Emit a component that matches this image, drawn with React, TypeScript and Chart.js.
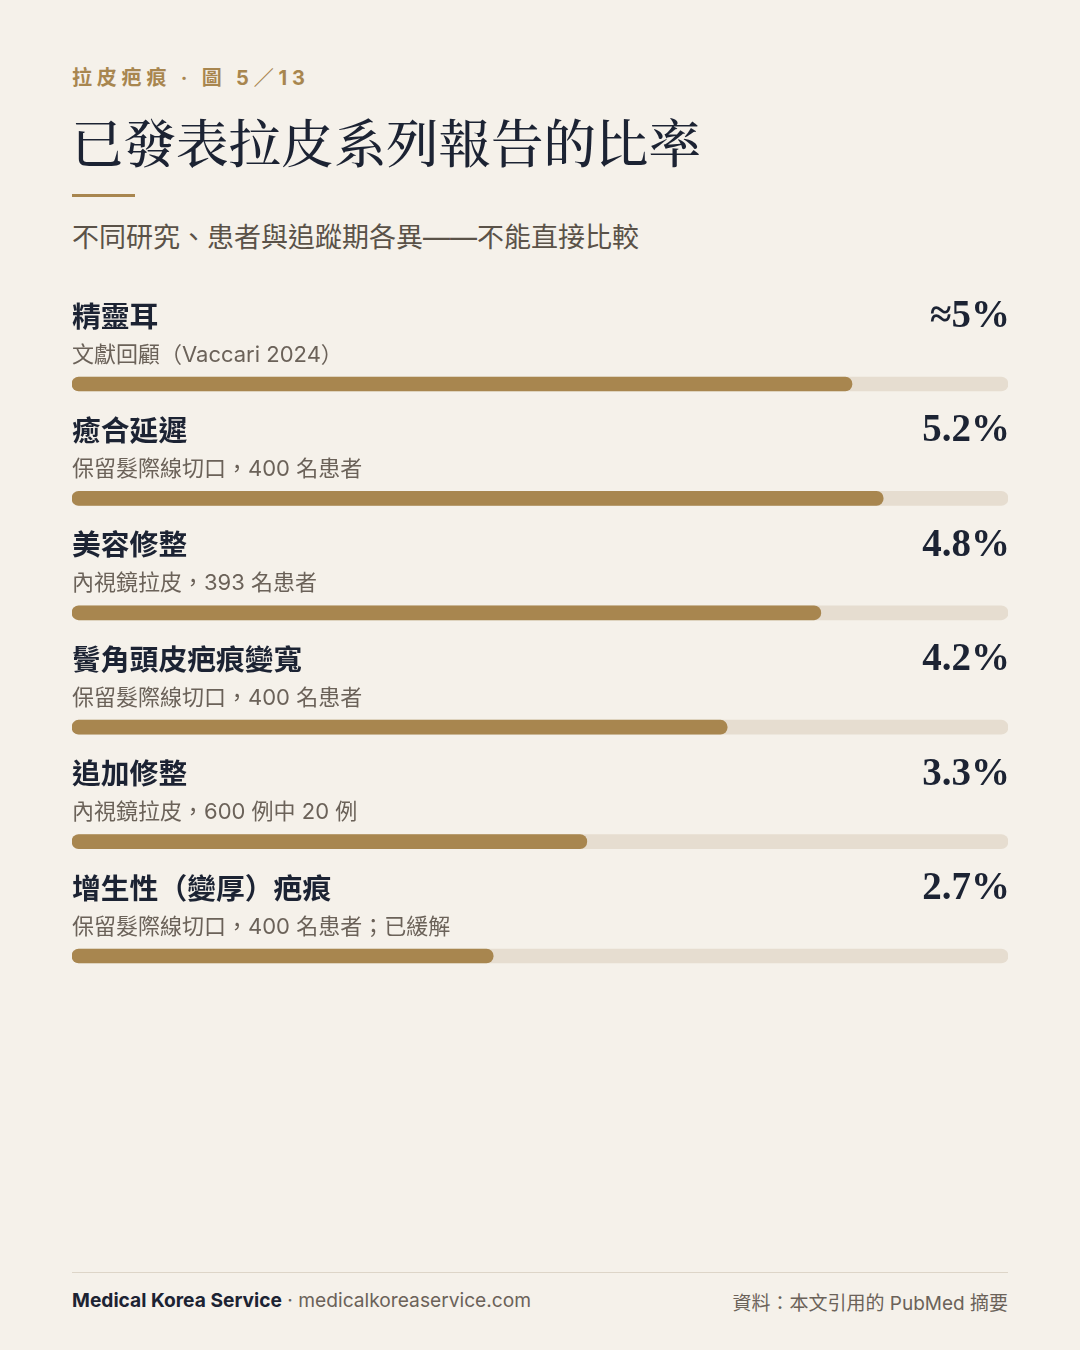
import React, { useRef, useEffect } from 'react';
import { Chart, registerables, Plugin } from 'chart.js';

Chart.register(...registerables);

const titles = ['精靈耳', '癒合延遲', '美容修整', '鬢角頭皮疤痕變寬', '追加修整', '增生性（變厚）疤痕'];
const notes = [
  '文獻回顧（Vaccari 2024）',
  '保留髮際線切口，400 名患者',
  '內視鏡拉皮，393 名患者',
  '保留髮際線切口，400 名患者',
  '內視鏡拉皮，600 例中 20 例',
  '保留髮際線切口，400 名患者；已緩解',
];
const rates = [5.0, 5.2, 4.8, 4.2, 3.3, 2.7];
const rateLabels = ['≈5%', '5.2%', '4.8%', '4.2%', '3.3%', '2.7%'];
const scaleMax = 6;

const GOLD = '#a8864f';
const TRACK = '#e6ddd0';
const NAVY = '#1c2333';
const GREY = '#6b6259';
const BG = '#f5f1ea';

const SANS = "Inter, 'Noto Sans CJK TC', sans-serif";

const rowText: Plugin = {
  id: 'rowText',
  afterDatasetsDraw(chart) {
    const ctx = chart.ctx;
    const meta = chart.getDatasetMeta(0);
    const { left, right } = chart.chartArea;
    ctx.save();
    meta.data.forEach((bar, i) => {
      const y = bar.y;
      ctx.textBaseline = 'middle';
      ctx.textAlign = 'left';
      ctx.fillStyle = NAVY;
      ctx.font = `700 28.8px ${SANS}`;
      ctx.fillText(titles[i], left, y - 66);
      ctx.fillStyle = GREY;
      ctx.font = `400 22px ${SANS}`;
      ctx.fillText(notes[i], left, y - 29);
      ctx.textAlign = 'right';
      ctx.fillStyle = NAVY;
      ctx.font = `700 39px 'Liberation Serif', 'DejaVu Serif', serif`;
      ctx.fillText(rateLabels[i], right + 2, y - 67);
    });
    ctx.restore();
  },
};

const RateBars: React.FC = () => {
  const canvasRef = useRef<HTMLCanvasElement | null>(null);
  const chartRef = useRef<Chart | null>(null);

  useEffect(() => {
    const ctx = canvasRef.current?.getContext('2d');
    if (!ctx) return;
    if (chartRef.current) chartRef.current.destroy();

    chartRef.current = new Chart(ctx, {
      type: 'bar',
      data: {
        labels: titles,
        datasets: [
          {
            data: rates,
            backgroundColor: GOLD,
            barThickness: 14,
            borderRadius: 7,
            borderSkipped: false,
            grouped: false,
          },
          {
            data: titles.map(() => scaleMax),
            backgroundColor: TRACK,
            barThickness: 14,
            borderRadius: 7,
            borderSkipped: false,
            grouped: false,
          },
        ],
      },
      options: {
        indexAxis: 'y',
        responsive: false,
        animation: false,
        layout: { padding: { top: 46.8, bottom: 6.8, left: 72, right: 72 } },
        scales: {
          x: { min: 0, max: scaleMax, display: false },
          y: { display: false },
        },
        plugins: {
          legend: { display: false },
          tooltip: { enabled: false },
        },
      },
      plugins: [rowText],
    });

    return () => {
      if (chartRef.current) {
        chartRef.current.destroy();
        chartRef.current = null;
      }
    };
  }, []);

  return (
    <canvas
      ref={canvasRef}
      width={1080}
      height={740}
      style={{ position: 'absolute', left: 0, top: 280, width: 1080, height: 740 }}
    />
  );
};

const App: React.FC = () => {
  return (
    <div
      style={{
        position: 'relative',
        width: 1080,
        height: 1350,
        background: BG,
        fontFamily: SANS,
        overflow: 'hidden',
      }}
    >
      <style>{`body{margin:0;background:${BG};}`}</style>
      <div
        style={{
          position: 'absolute',
          left: 72,
          top: 64,
          fontSize: 20,
          fontWeight: 700,
          letterSpacing: 4.8,
          color: GOLD,
          lineHeight: '28px',
        }}
      >
        拉皮疤痕 · 圖 5／13
      </div>
      <div
        style={{
          position: 'absolute',
          left: 71,
          top: 106,
          fontSize: 52.5,
          fontWeight: 500,
          color: NAVY,
          lineHeight: '70px',
          fontFamily: "'Noto Serif CJK TC', 'Noto Serif CJK SC', 'Noto Sans CJK TC', serif",
        }}
      >
        已發表拉皮系列報告的比率
      </div>
      <div style={{ position: 'absolute', left: 72, top: 194, width: 63, height: 3, background: GOLD }} />
      <div
        style={{
          position: 'absolute',
          left: 72,
          top: 221,
          fontSize: 27,
          color: '#5a5248',
          lineHeight: '34px',
        }}
      >
        不同研究、患者與追蹤期各異——不能直接比較
      </div>

      <RateBars />

      <div style={{ position: 'absolute', left: 72, top: 1272, width: 936, height: 1, background: '#ddd5c8' }} />
      <div
        style={{ position: 'absolute', left: 72, top: 1287, fontSize: 19.2, lineHeight: '26px', color: GREY }}
      >
        <span style={{ fontWeight: 700, color: NAVY }}>Medical Korea Service</span> · medicalkoreaservice.com
      </div>
      <div
        style={{
          position: 'absolute',
          right: 72,
          top: 1291,
          fontSize: 19,
          lineHeight: '26px',
          color: GREY,
        }}
      >
        資料：本文引用的 PubMed 摘要
      </div>
    </div>
  );
};

export default App;
